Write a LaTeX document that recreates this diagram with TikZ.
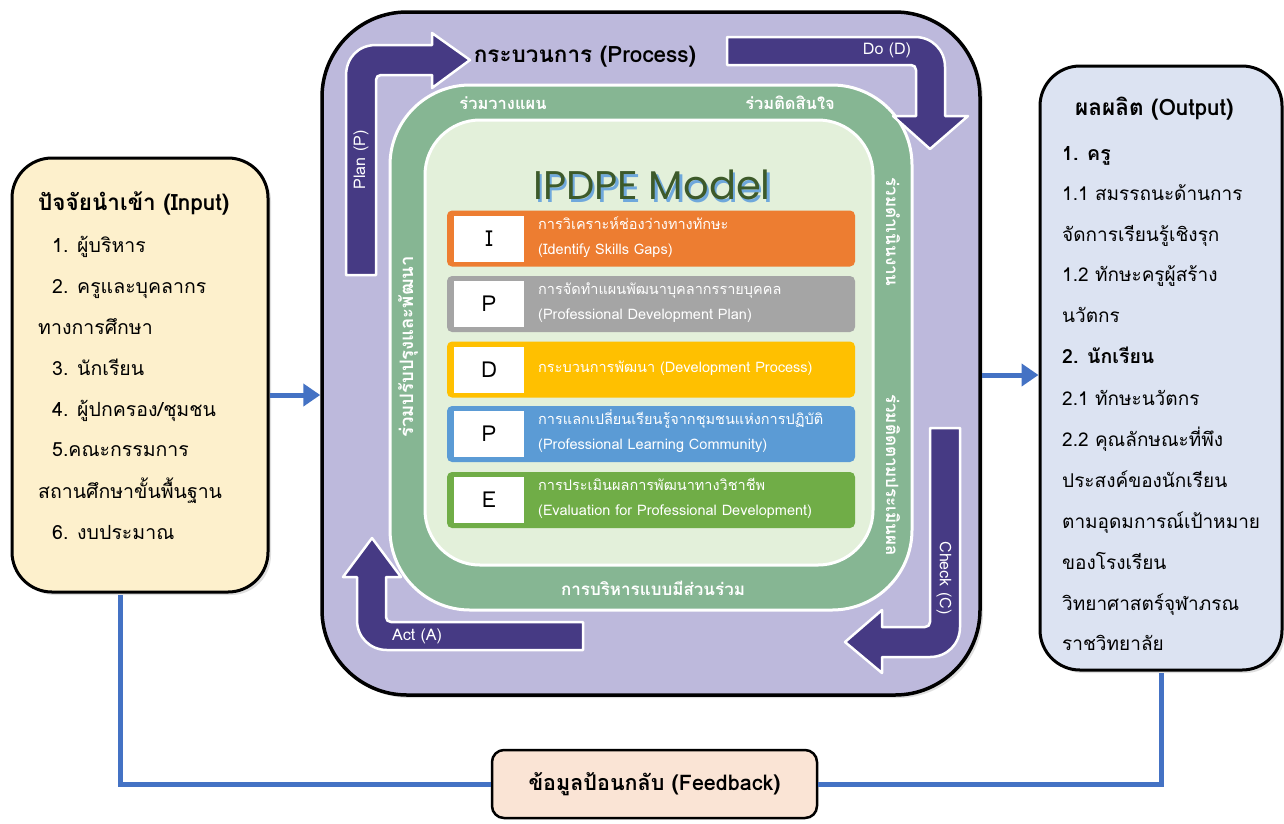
\documentclass[tikz,border=0pt]{standalone}
\usepackage{fontspec}
\setmainfont[Script=Thai]{Loma}
\newfontfamily\titlefont{Poppins}
\usetikzlibrary{arrows.meta,shadows}
\definecolor{procfill}{HTML}{BDB9DC}
\definecolor{bandgreen}{HTML}{86B693}
\definecolor{innergreen}{HTML}{E3F0DA}
\definecolor{inputfill}{HTML}{FDF0CC}
\definecolor{outputfill}{HTML}{DCE3F2}
\definecolor{fbfill}{HTML}{FAE4D5}
\definecolor{pdca}{HTML}{463A84}
\definecolor{flowblue}{HTML}{4472C4}
\definecolor{rowI}{HTML}{ED7D31}
\definecolor{rowP}{HTML}{A5A5A5}
\definecolor{rowD}{HTML}{FFC000}
\definecolor{rowPP}{HTML}{5B9BD5}
\definecolor{rowE}{HTML}{70AD47}
\definecolor{titlegreen}{HTML}{3D5A2A}
\definecolor{titleblue}{HTML}{6FA8DC}
\tikzset{
  bigbox/.style={draw=black, line width=3pt, rounded corners=40pt, drop shadow={opacity=0.25, shadow xshift=3pt, shadow yshift=-3pt}},
  rowbox/.style={rounded corners=5pt, minimum width=408pt, minimum height=56pt, inner sep=0pt},
  letterbox/.style={fill=white, minimum width=70pt, minimum height=46pt, inner sep=0pt, font=\fontsize{22}{24}\selectfont},
  rowtext/.style={text=white, anchor=base west, inner sep=0pt, font=\fontsize{14.5}{16}\selectfont},
  bandtext/.style={text=white, inner sep=0pt, font=\bfseries\fontsize{16.5}{18}\selectfont},
  pdcashape/.style={fill=pdca, draw=white, line width=2.5pt, line join=round},
  pdcatext/.style={text=white, inner sep=0pt, font=\fontsize{16}{18}\selectfont},
  intext/.style={anchor=base west, inner sep=0pt, font=\fontsize{19.5}{22}\selectfont},
  outtext/.style={anchor=base west, inner sep=0pt, font=\fontsize{19}{22}\selectfont},
  bigtitle/.style={inner sep=0pt, font=\bfseries\fontsize{22.5}{24}\selectfont},
  flow/.style={draw=flowblue, line width=5pt},
  flowarrow/.style={flow, -{Triangle[length=17pt,width=22pt]}},
}
\begin{document}
\begin{tikzpicture}[x=1pt,y=-1pt]
\useasboundingbox (0,0) rectangle (1284,823);
\fill[white] (0,0) rectangle (1284,823);

% feedback box
\node[draw=black, line width=2.5pt, fill=fbfill, rounded corners=12pt, minimum width=325pt, minimum height=68pt, inner sep=0pt, font=\bfseries\fontsize{21.5}{24}\selectfont] (feedback) at (654.5,784) {ข้อมูลป้อนกลับ (Feedback)};

% input box
\node[bigbox, fill=inputfill, minimum width=256pt, minimum height=434pt] (input) at (140,375) {};
\node[bigtitle, anchor=base west] (in0) at (38,210) {ปัจจัยนำเข้า (Input)};
\node[intext] (in1) at (52,252) {1. ผู้บริหาร};
\node[intext] (in2) at (52,293) {2. ครูและบุคลากร};
\node[intext] (in3) at (38,334) {ทางการศึกษา};
\node[intext] (in4) at (52,375) {3. นักเรียน};
\node[intext] (in5) at (52,416) {4. ผู้ปกครอง/ชุมชน};
\node[intext] (in6) at (52,456) {5.คณะกรรมการ};
\node[intext] (in7) at (38,498) {สถานศึกษาขั้นพื้นฐาน};
\node[intext] (in8) at (52,539) {6. งบประมาณ};

% output box
\node[bigbox, fill=outputfill, minimum width=242pt, minimum height=604pt] (output) at (1161,368) {};
\node[bigtitle, anchor=base west] (out0) at (1075,115) {ผลผลิต (Output)};
\node[outtext, font=\bfseries\fontsize{19.5}{22}\selectfont] (out1) at (1062,160) {1. ครู};
\node[outtext] (out2) at (1062,200) {1.1 สมรรถนะด้านการ};
\node[outtext] (out3) at (1062,241) {จัดการเรียนรู้เชิงรุก};
\node[outtext] (out4) at (1062,281) {1.2 ทักษะครูผู้สร้าง};
\node[outtext] (out5) at (1062,322) {นวัตกร};
\node[outtext, font=\bfseries\fontsize{19.5}{22}\selectfont] (out6) at (1062,363) {2. นักเรียน};
\node[outtext] (out7) at (1062,405) {2.1 ทักษะนวัตกร};
\node[outtext] (out8) at (1062,446) {2.2 คุณลักษณะที่พึง};
\node[outtext] (out9) at (1062,487) {ประสงค์ของนักเรียน};
\node[outtext] (out10) at (1062,528) {ตามอุดมการณ์เป้าหมาย};
\node[outtext] (out11) at (1062,569) {ของโรงเรียน};
\node[outtext] (out12) at (1062,610) {วิทยาศาสตร์จุฬาภรณ};
\node[outtext] (out13) at (1062,650) {ราชวิทยาลัย};

% process box
\node[bigbox, line width=3.5pt, fill=procfill, rounded corners=85pt, minimum width=658pt, minimum height=683pt] (process) at (651,353.5) {};
\node[bigtitle] (ptitle) at (585,57) {กระบวนการ (Process)};

% green band and inner area
\node[fill=bandgreen, draw=white, line width=3pt, rounded corners=80pt, minimum width=522pt, minimum height=525pt] (band) at (651,347.5) {};
\node[fill=innergreen, draw=white, line width=3pt, rounded corners=55pt, minimum width=448pt, minimum height=445pt] (inner) at (649,342.5) {};

\node[bandtext] (b1) at (503,103) {ร่วมวางแผน};
\node[bandtext] (b2) at (790,103) {ร่วมติดสินใจ};
\node[bandtext, font=\bfseries\fontsize{17}{19}\selectfont] (b3) at (653,588) {การบริหารแบบมีส่วนร่วม};
\node[bandtext, font=\bfseries\fontsize{18.5}{20}\selectfont, rotate=90] (b4) at (408,347) {ร่วมปรับปรุงและพัฒนา};
\node[bandtext, font=\bfseries\fontsize{17}{19}\selectfont, rotate=-90] (b5) at (893,232) {ร่วมดำเนินงาน};
\node[bandtext, font=\bfseries\fontsize{17}{19}\selectfont, rotate=-90] (b6) at (893,475) {ร่วมติดตามประเมินผล};

% IPDPE Model title
\node[inner sep=0pt, text=titleblue, font=\titlefont\fontsize{40}{42}\selectfont] at (654.5,187.5) {IPDPE Model};
\node[inner sep=0pt, text=titlegreen, font=\titlefont\fontsize{40}{42}\selectfont] (mtitle) at (652,185) {IPDPE Model};

% rows
\node[rowbox, fill=rowI] (rI) at (651,238.5) {};
\node[rowbox, fill=rowP] (rP) at (651,304) {};
\node[rowbox, fill=rowD] (rD) at (651,369.5) {};
\node[rowbox, fill=rowPP] (rPP) at (651,434) {};
\node[rowbox, fill=rowE] (rE) at (651,500) {};
\node[letterbox] (lI) at (489,238.5) {I};
\node[letterbox] (lP) at (489,304) {P};
\node[letterbox] (lD) at (489,369.5) {D};
\node[letterbox] (lPP) at (489,434) {P};
\node[letterbox] (lE) at (489,500) {E};
\node[rowtext] (tI1) at (538,229) {การวิเคราะห์ช่องว่างทางทักษะ};
\node[rowtext] (tI2) at (538,254) {(Identify Skills Gaps)};
\node[rowtext] (tP1) at (538,294) {การจัดทำแผนพัฒนาบุคลากรรายบุคคล};
\node[rowtext] (tP2) at (538,319) {(Professional Development Plan)};
\node[rowtext] (tD1) at (538,372) {กระบวนการพัฒนา (Development Process)};
\node[rowtext] (tPP1) at (538,424) {การแลกเปลี่ยนเรียนรู้จากชุมชนแห่งการปฏิบัติ};
\node[rowtext] (tPP2) at (538,449) {(Professional Learning Community)};
\node[rowtext] (tE1) at (538,490) {การประเมินผลการพัฒนาทางวิชาชีพ};
\node[rowtext] (tE2) at (538,515) {(Evaluation for Professional Development)};

% PDCA arrows
% Plan
\draw[pdcashape] (346,275) -- (346,76) .. controls (346,58) and (358,45) .. (376,45) -- (432,45) -- (432,33) -- (470,60) -- (432,88) -- (432,75) -- (381,75) .. controls (378,75) and (376,77) .. (376,80) -- (376,275) -- cycle;
\node[pdcatext, rotate=90] (plan) at (361,160) {Plan (P)};
% Do
\draw[pdcashape] (727,37) -- (915,37) .. controls (932,37) and (945,50) .. (945,67) -- (945,116) -- (968,116) -- (930,149) -- (893,116) -- (916,116) -- (916,70) .. controls (916,67) and (914,65) .. (911,65) -- (727,65) -- cycle;
\node[pdcatext] (do) at (887,50) {Do (D)};
% Check
\draw[pdcashape] (930,428) -- (960,428) -- (960,627) .. controls (960,644) and (947,657) .. (930,657) -- (882,657) -- (882,673) -- (845,642) -- (882,610) -- (882,627) -- (925,627) .. controls (928,627) and (930,625) .. (930,622) -- cycle;
\node[pdcatext, rotate=-90] (check) at (944,578) {Check (C)};
% Act
\draw[pdcashape] (583,622) -- (391,622) .. controls (388,622) and (386,620) .. (386,617) -- (386,577) -- (401,577) -- (372,538) -- (343,577) -- (357,577) -- (357,620) .. controls (357,637) and (370,650) .. (387,650) -- (583,650) -- cycle;
\node[pdcatext] (act) at (417,636) {Act (A)};

% flow arrows
\draw[flowarrow] ([yshift=-20pt]input.east) -- ([yshift=-20pt]input.east -| process.west);
\draw[flowarrow] ([yshift=-21.5pt]process.east) -- ([yshift=-21.5pt]process.east -| output.west);
\draw[flow] ([yshift=-1.5pt]output.south) -- (output.south |- feedback) -- (feedback.east);
\draw[flow] (feedback.west) -- ([xshift=-20pt]input.south |- feedback) -- ([xshift=-20pt,yshift=-1.5pt]input.south);
\end{tikzpicture}
\end{document}
